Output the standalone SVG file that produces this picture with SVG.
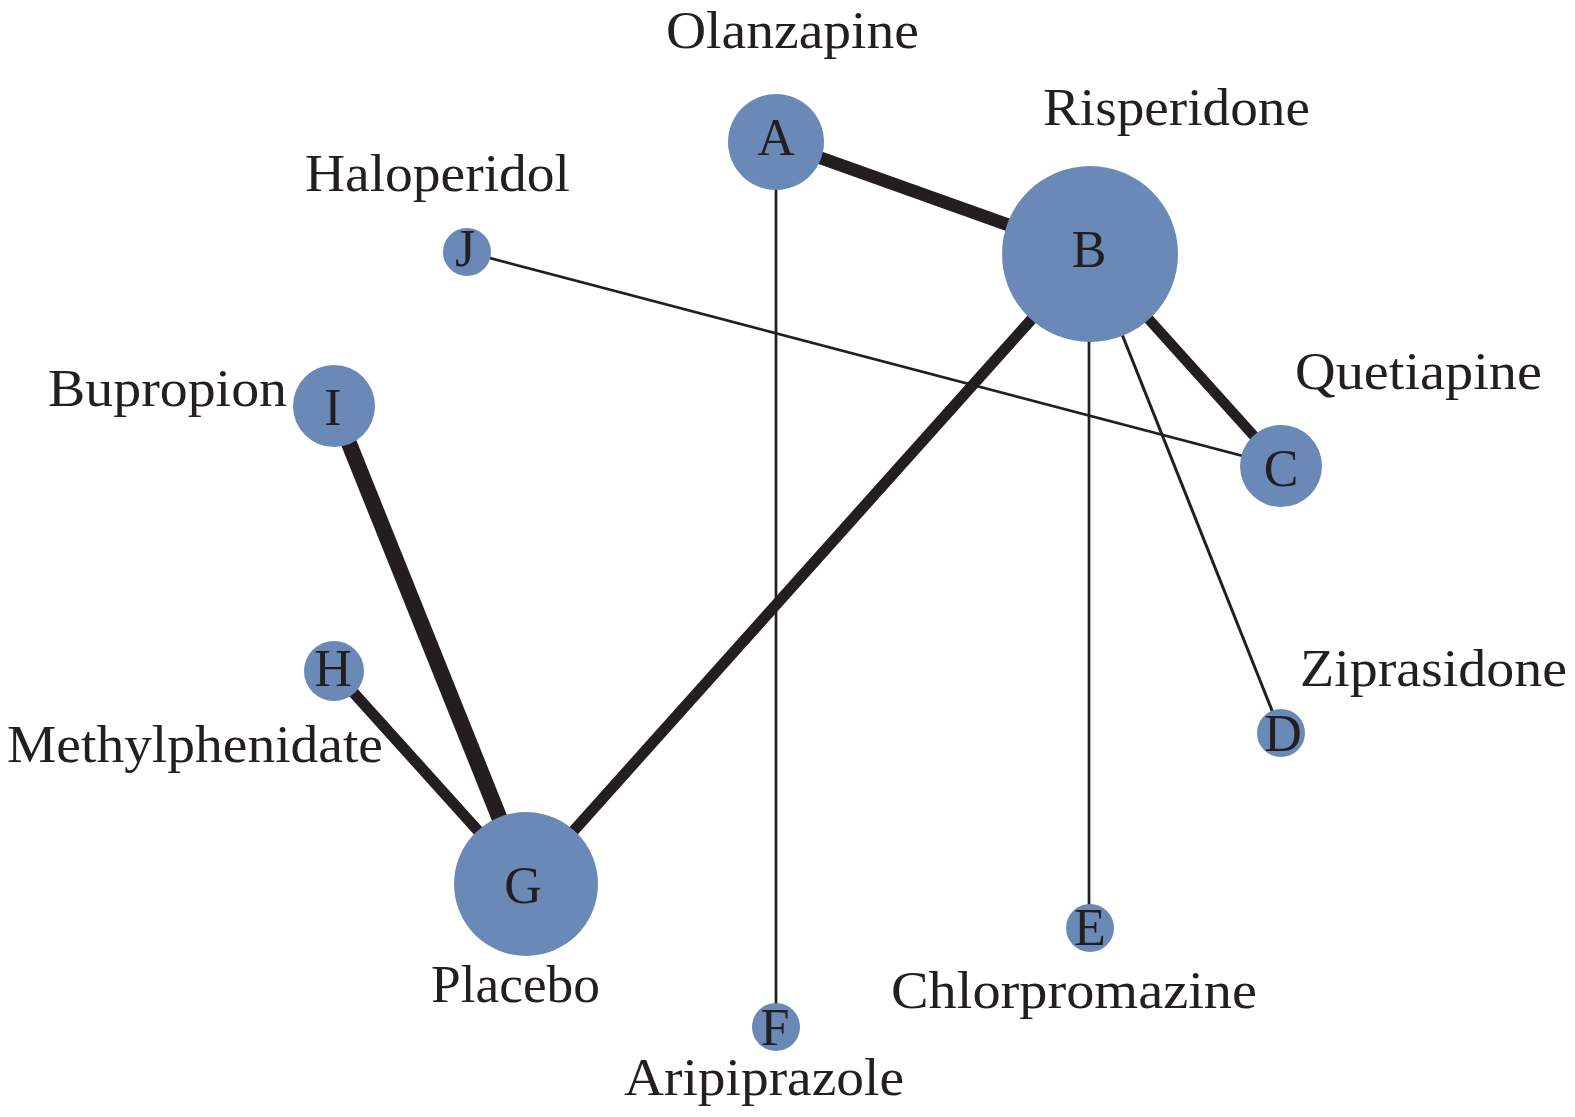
<svg xmlns="http://www.w3.org/2000/svg" width="1575" height="1117" viewBox="0 0 1575 1117">
<style>
.n{fill:#6a89b7}
.e{stroke:#231f20;fill:none}
.l{font-family:"Liberation Serif",serif;font-size:52px;fill:#231f20}
.k{font-family:"Liberation Serif",serif;font-size:52px;fill:#231f20;text-anchor:middle}
</style>
<rect width="1575" height="1117" fill="#fff"/>
<g id="connectors">
<line class="e" x1="776" y1="142" x2="1090" y2="254" stroke-width="13"/>
<line class="e" x1="776" y1="142" x2="776" y2="1027" stroke-width="2.7"/>
<line class="e" x1="467" y1="252" x2="1281" y2="466" stroke-width="2.7"/>
<line class="e" x1="1090" y1="254" x2="1281" y2="466" stroke-width="10.5"/>
<line class="e" x1="1090" y1="254" x2="1281" y2="733" stroke-width="3"/>
<line class="e" x1="1089" y1="254" x2="1089" y2="928" stroke-width="2.7"/>
<line class="e" x1="1090" y1="254" x2="526" y2="884" stroke-width="11"/>
<line class="e" x1="334" y1="406" x2="526" y2="884" stroke-width="16"/>
<line class="e" x1="334" y1="671" x2="526" y2="884" stroke-width="11"/>
</g>
<g id="A"><circle class="n" cx="776" cy="142" r="48"/><text class="k" x="776" y="155">A</text><text class="l" x="666" y="48" textLength="253" lengthAdjust="spacingAndGlyphs">Olanzapine</text></g>
<g id="B"><circle class="n" cx="1090" cy="254" r="88"/><text class="k" x="1089" y="267">B</text><text class="l" x="1043" y="125" textLength="267" lengthAdjust="spacingAndGlyphs">Risperidone</text></g>
<g id="C"><circle class="n" cx="1281" cy="466" r="41"/><text class="k" x="1281" y="486">C</text><text class="l" x="1295" y="389" textLength="247" lengthAdjust="spacingAndGlyphs">Quetiapine</text></g>
<g id="D"><circle class="n" cx="1281" cy="733" r="24"/><text class="k" x="1283" y="751">D</text><text class="l" x="1300" y="686" textLength="267" lengthAdjust="spacingAndGlyphs">Ziprasidone</text></g>
<g id="E"><circle class="n" cx="1090" cy="928" r="24"/><text class="k" x="1090" y="945">E</text><text class="l" x="891" y="1008" textLength="366" lengthAdjust="spacingAndGlyphs">Chlorpromazine</text></g>
<g id="F"><circle class="n" cx="776" cy="1027" r="24"/><text class="k" x="775" y="1045">F</text><text class="l" x="624" y="1095" textLength="280" lengthAdjust="spacingAndGlyphs">Aripiprazole</text></g>
<g id="G"><circle class="n" cx="526" cy="884" r="72"/><text class="k" x="523" y="903">G</text><text class="l" x="431" y="1002" textLength="169" lengthAdjust="spacingAndGlyphs">Placebo</text></g>
<g id="H"><circle class="n" cx="334" cy="671" r="30"/><text class="k" x="333" y="686">H</text><text class="l" x="7" y="762" textLength="376" lengthAdjust="spacingAndGlyphs">Methylphenidate</text></g>
<g id="I"><circle class="n" cx="334" cy="406" r="41"/><text class="k" x="333" y="425">I</text><text class="l" x="48" y="406" textLength="239" lengthAdjust="spacingAndGlyphs">Bupropion</text></g>
<g id="J"><circle class="n" cx="467" cy="252" r="24"/><text class="k" x="465" y="266">J</text><text class="l" x="305" y="191" textLength="265" lengthAdjust="spacingAndGlyphs">Haloperidol</text></g>
</svg>
